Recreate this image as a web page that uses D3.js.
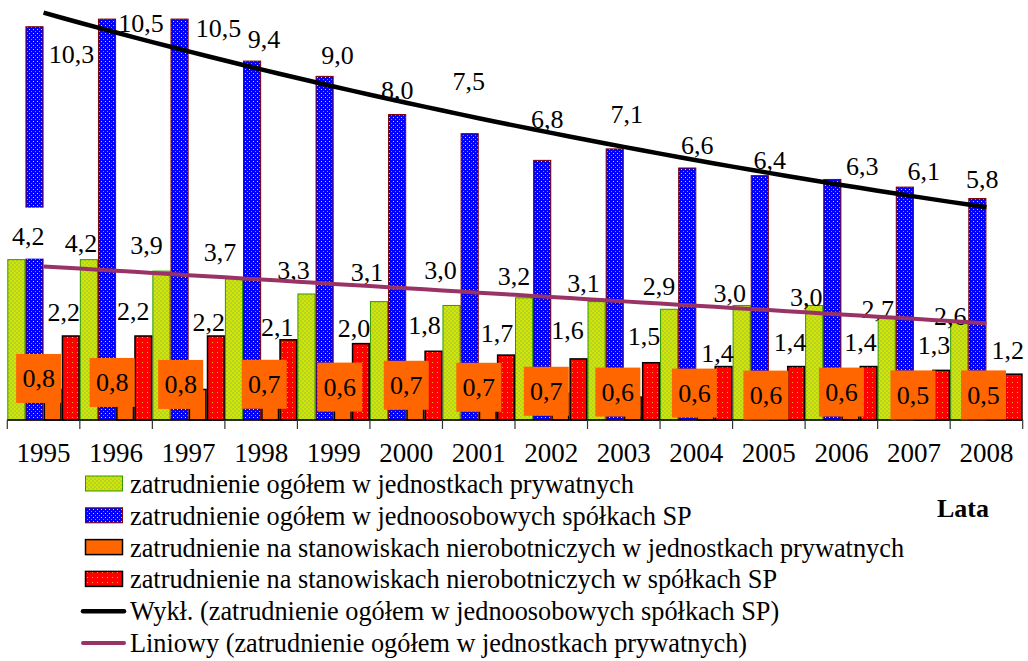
<!DOCTYPE html>
<html lang="pl">
<head>
<meta charset="UTF-8">
<title>Zatrudnienie 1995-2008</title>
<script src="https://d3js.org/d3.v7.min.js"></script>
<style>
  body { margin: 0; background: #fff; }
  svg { display: block; }
  svg text { font-family: "Liberation Serif", "Times New Roman", serif; }
  .lbl { font-size: 26px; fill: #000; }
  .legend-text { font-size: 26.3px; }
</style>
</head>
<body>
<div id="chart"></div>
<script>
// dane
const years = ["1995", "1996", "1997", "1998", "1999", "2000", "2001", "2002", "2003", "2004", "2005", "2006", "2007", "2008"];
const prywatneOgolem = [4.2, 4.2, 3.9, 3.7, 3.3, 3.1, 3.0, 3.2, 3.1, 2.9, 3.0, 3.0, 2.7, 2.6];
const spOgolem = [10.3, 10.5, 10.5, 9.4, 9.0, 8.0, 7.5, 6.8, 7.1, 6.6, 6.4, 6.3, 6.1, 5.8];
const prywatneNierob = [0.8, 0.8, 0.8, 0.7, 0.6, 0.7, 0.7, 0.7, 0.6, 0.6, 0.6, 0.6, 0.5, 0.5];
const spNierob = [2.2, 2.2, 2.2, 2.1, 2.0, 1.8, 1.7, 1.6, 1.5, 1.4, 1.4, 1.4, 1.3, 1.2];

const seriesNames = [
    "zatrudnienie ogółem w jednostkach prywatnych",
    "zatrudnienie ogółem w jednoosobowych spółkach SP",
    "zatrudnienie na stanowiskach nierobotniczych w jednostkach prywatnych",
    "zatrudnienie na stanowiskach nierobotniczych w spółkach SP"
];
const trendNames = [
    "Wykł. (zatrudnienie ogółem w jednoosobowych spółkach SP)",
    "Liniowy (zatrudnienie ogółem w jednostkach prywatnych)"
];

// przesuniecia etykiet (recznie ustawione jak w oryginale) [dx, dy] od srodka/szczytu slupka
const nudgeGreen = [[12, -24], [-8, -17], [-15, -26], [-14, -27], [-13, -24], [-12, -30], [-11, -35], [-10, -22], [-13, -19], [-10, -23], [-12, -12], [-8, -8], [-9, -8], [-9, -5]];
const nudgeBlue = [[37, 27], [34, 4], [39, 9], [12, -22], [13, -21], [0, -25], [-1, -53], [5, -41], [12, -35], [10, -23], [10, -16], [30, -13], [19, -16], [5, -20]];
const nudgeOrange = [[-14, -11], [-13, -7], [-17, -5], [-6, -9], [-3, -10], [-9, -8], [-9, -6], [-14, -2], [-15, -5], [-11, -4], [-12, -2], [-9, -5], [-10, -6], [-12, -6]];
const nudgeRed = [[-7, -24], [-10, -25], [-7, -14], [-11, -13], [-7, -16], [-9, -26], [-9, -22], [-11, -29], [-7, -27], [-6, -14], [-6, -25], [-8, -25], [-7, -25], [-6, -24]];

const width = 1028, height = 661;
const fmt = v => v.toFixed(1).replace(".", ",");

const svg = d3.select("#chart").append("svg")
    .attr("width", width)
    .attr("height", height);

svg.append("rect").attr("width", width).attr("height", height).attr("fill", "#fff");

// wzory wypelnien
const defs = svg.append("defs");

const pGreen = defs.append("pattern").attr("id", "pGreen")
    .attr("patternUnits", "userSpaceOnUse").attr("width", 4).attr("height", 4);
pGreen.append("rect").attr("width", 4).attr("height", 4).attr("fill", "#d2e600");
pGreen.append("rect").attr("x", 0).attr("y", 0).attr("width", 2).attr("height", 2).attr("fill", "#b4d22a");
pGreen.append("rect").attr("x", 2).attr("y", 2).attr("width", 2).attr("height", 2).attr("fill", "#b4d22a");

const pBlue = defs.append("pattern").attr("id", "pBlue")
    .attr("patternUnits", "userSpaceOnUse").attr("width", 4).attr("height", 4);
pBlue.append("rect").attr("width", 4).attr("height", 4).attr("fill", "#0000ff");
pBlue.append("rect").attr("x", 1).attr("y", 1).attr("width", 1).attr("height", 1).attr("fill", "#c8c8ff");
pBlue.append("rect").attr("x", 3).attr("y", 3).attr("width", 1).attr("height", 1).attr("fill", "#8080ff");

const pRed = defs.append("pattern").attr("id", "pRed")
    .attr("patternUnits", "userSpaceOnUse").attr("width", 5).attr("height", 5);
pRed.append("rect").attr("width", 5).attr("height", 5).attr("fill", "#ff0000");
pRed.append("rect").attr("x", 2).attr("y", 2).attr("width", 1).attr("height", 1).attr("fill", "#ffb000");

const series = [
    { values: prywatneOgolem, fill: "url(#pGreen)", stroke: "#339900", sw: 1, nudge: nudgeGreen },
    { values: spOgolem, fill: "url(#pBlue)", stroke: "#800000", sw: 1, nudge: nudgeBlue },
    { values: prywatneNierob, fill: "#ff6600", stroke: "#000", sw: 1.5, nudge: nudgeOrange },
    { values: spNierob, fill: "url(#pRed)", stroke: "#000", sw: 1.5, nudge: nudgeRed }
];

// skale
const x0 = d3.scaleBand().domain(years).range([7.3, 1022.7]).padding(0);
const x1 = d3.scaleBand().domain(d3.range(series.length)).range([0, x0.bandwidth()]).padding(0);
const y = d3.scaleLinear().domain([0, 11]).range([420, 0]);

// slupki
const gBars = svg.append("g");
series.forEach((s, si) => {
    gBars.append("g").selectAll("rect")
        .data(s.values)
        .join("rect")
        .attr("x", (d, i) => x0(years[i]) + x1(si) + s.sw / 2)
        .attr("y", d => y(d))
        .attr("width", x1.bandwidth() - s.sw)
        .attr("height", d => y(0) - y(d))
        .attr("fill", s.fill)
        .attr("stroke", s.stroke)
        .attr("stroke-width", s.sw);
});

// os X
const xAxis = svg.append("g").attr("transform", `translate(0,${y(0)})`);
xAxis.append("line")
    .attr("x1", x0.range()[0]).attr("x2", x0.range()[1])
    .attr("stroke", "#000").attr("stroke-width", 1.5);
xAxis.selectAll(".tick")
    .data(years.concat(["end"]))
    .join("line")
    .attr("x1", (d, i) => x0.range()[0] + i * x0.step())
    .attr("x2", (d, i) => x0.range()[0] + i * x0.step())
    .attr("y1", 0).attr("y2", 9)
    .attr("stroke", "#333").attr("stroke-width", 1.2);
xAxis.selectAll(".year")
    .data(years)
    .join("text")
    .attr("class", "lbl")
    .attr("x", d => x0(d) + x0.bandwidth() / 2)
    .attr("y", 42)
    .attr("text-anchor", "middle")
    .style("font-size", "27px")
    .text(d => d);

// linie trendu
const xs = years.map((d, i) => i + 1);
function linFit(vals) {
    const mx = d3.mean(xs), my = d3.mean(vals);
    const b = d3.sum(xs, (v, i) => (v - mx) * (vals[i] - my)) / d3.sum(xs, v => (v - mx) * (v - mx));
    return t => my + b * (t - mx);
}
function expFit(vals) {
    const f = linFit(vals.map(Math.log));
    return t => Math.exp(f(t));
}
const trendSP = expFit(spOgolem);
const trendPryw = linFit(prywatneOgolem);

const tx = d3.scaleLinear().domain([1, years.length])
    .range([x0(years[0]) + x0.bandwidth() / 2, x0(years[years.length - 1]) + x0.bandwidth() / 2]);
const samples = d3.range(1, years.length + 0.001, 0.25);
const line = f => d3.line().x(t => tx(t)).y(t => y(f(t)))(samples);

// etykiety danych
const gLabels = svg.append("g");
series.forEach((s, si) => {
    s.values.forEach((v, i) => {
        const cx = x0(years[i]) + x1(si) + x1.bandwidth() / 2 + s.nudge[i][0];
        const cy = y(v) + s.nudge[i][1];
        if (si === 2) {
            gLabels.append("rect")
                .attr("x", cx - 22.5).attr("y", cy - 24.5)
                .attr("width", 45).attr("height", 49)
                .attr("fill", "#ff6600");
        }
        if (si === 0 && i === 0) {
            // etykieta z bialym tlem
            gLabels.append("rect")
                .attr("x", cx - 20).attr("y", cy - 28)
                .attr("width", 40).attr("height", 51)
                .attr("fill", "#fff");
        }
        gLabels.append("text")
            .attr("class", "lbl")
            .attr("x", cx)
            .attr("y", cy + 9)
            .attr("text-anchor", "middle")
            .text(fmt(v));
    });
});

svg.append("path")
    .attr("d", line(trendPryw))
    .attr("fill", "none")
    .attr("stroke", "#993366")
    .attr("stroke-width", 4);

svg.append("path")
    .attr("d", line(trendSP))
    .attr("fill", "none")
    .attr("stroke", "#000")
    .attr("stroke-width", 4.5);

// legenda
const legend = svg.append("g");
const rowY = d3.scaleLinear().domain([0, 5]).range([484, 643]);

series.forEach((s, i) => {
    legend.append("rect")
        .attr("x", 85.5).attr("y", rowY(i) - 8)
        .attr("width", 37).attr("height", 15)
        .attr("fill", s.fill)
        .attr("stroke", s.stroke)
        .attr("stroke-width", s.sw);
    legend.append("text")
        .attr("class", "legend-text")
        .attr("x", 130).attr("y", rowY(i) + 9)
        .text(seriesNames[i]);
});

[["#000", 4.5], ["#993366", 4]].forEach((c, j) => {
    const i = 4 + j;
    legend.append("line")
        .attr("x1", 83).attr("x2", 124)
        .attr("y1", rowY(i)).attr("y2", rowY(i))
        .attr("stroke", c[0]).attr("stroke-width", c[1])
        .attr("stroke-linecap", "round");
    legend.append("text")
        .attr("class", "legend-text")
        .attr("x", 130).attr("y", rowY(i) + 9)
        .text(trendNames[j]);
});

svg.append("text")
    .attr("x", 937).attr("y", 517)
    .style("font-size", "26px")
    .style("font-weight", "bold")
    .text("Lata");
</script>
</body>
</html>
